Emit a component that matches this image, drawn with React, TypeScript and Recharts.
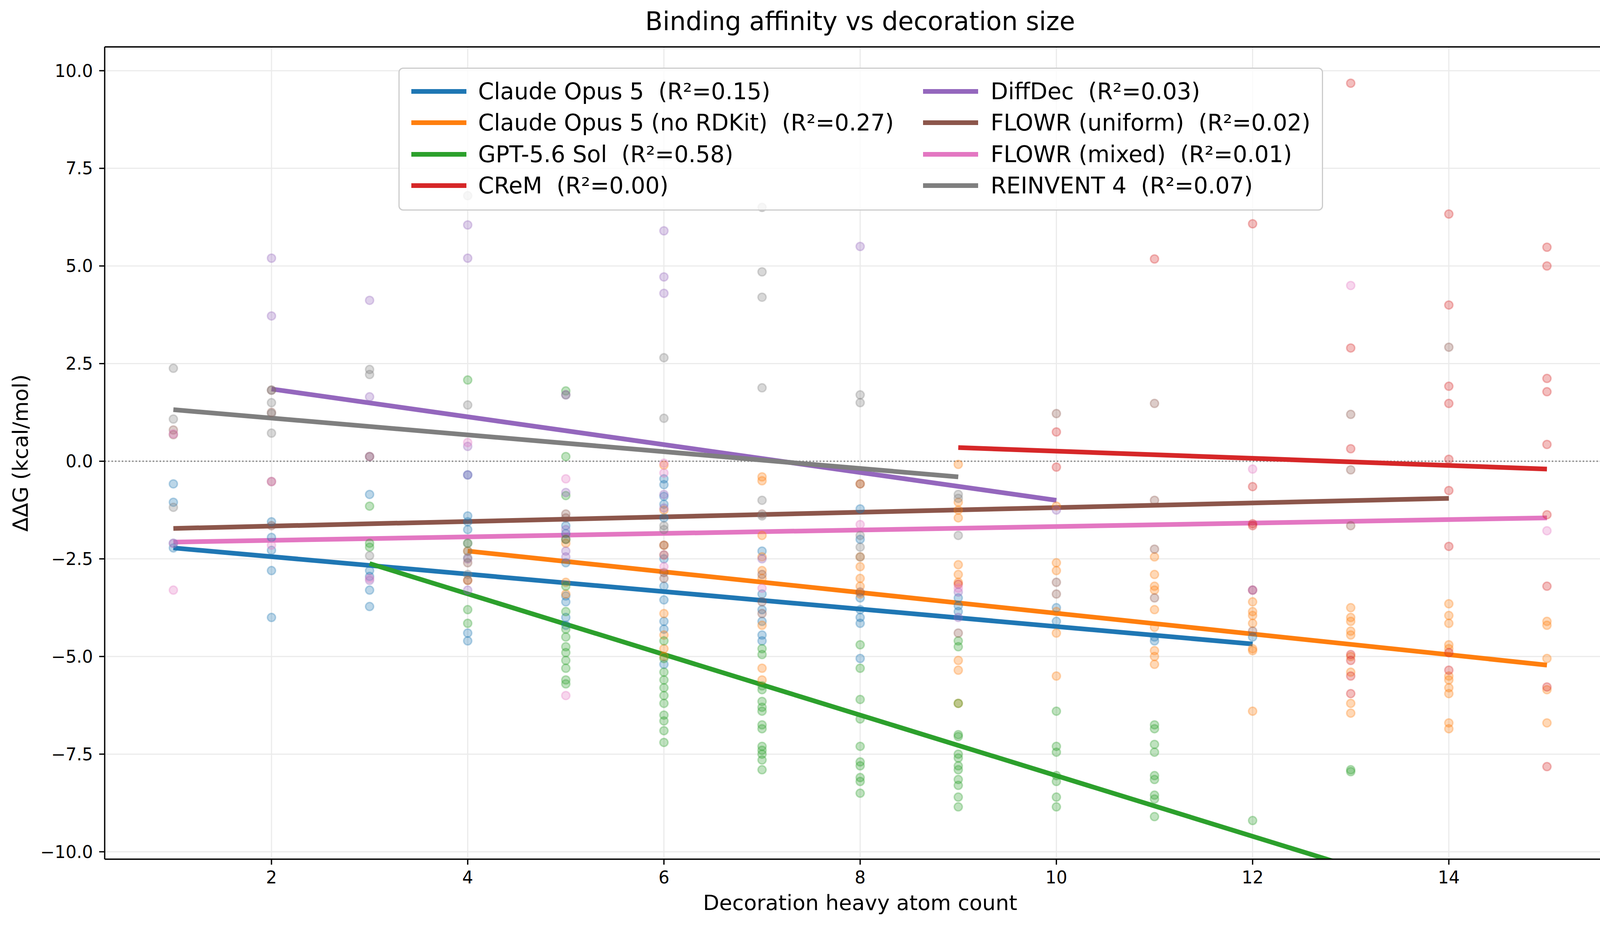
import React from "react";
import {
  ComposedChart,
  Scatter,
  Line,
  XAxis,
  YAxis,
  CartesianGrid,
  ReferenceLine,
} from "recharts";

type Pt = [number, number];

const xTicks = [2, 4, 6, 8, 10, 12, 14];
const yTicks = [-10, -7.5, -5, -2.5, 0, 2.5, 5, 7.5, 10];

// scatter points: [heavy atoms, ddG]
const opusPts: Pt[] = [
  [1, -0.58], [1, -1.05], [1, -2.1], [1, -2.22],
  [2, -1.55], [2, -1.95], [2, -2.28], [2, -2.8], [2, -4.0],
  [3, -0.85], [3, -2.8], [3, -2.95], [3, -3.3], [3, -3.72],
  [4, -0.35], [4, -1.4], [4, -1.55], [4, -1.75], [4, -2.3], [4, -4.4], [4, -4.6],
  [5, -1.65], [5, -1.85], [5, -2.6], [5, -3.45], [5, -3.6], [5, -4.0], [5, -4.2],
  [6, -0.45], [6, -0.6], [6, -0.9], [6, -1.1], [6, -1.45], [6, -2.5], [6, -3.2], [6, -3.55], [6, -4.1], [6, -4.3], [6, -5.2],
  [7, -2.3], [7, -3.4], [7, -3.8], [7, -4.1], [7, -4.45], [7, -4.6],
  [8, -1.22], [8, -2.0], [8, -3.5], [8, -3.8], [8, -4.0], [8, -4.15], [8, -5.05],
  [9, -3.5], [9, -3.7], [9, -3.85],
  [10, -3.75], [10, -4.1],
  [11, -4.5], [11, -4.6],
  [12, -4.5],
];

const noRdkitPts: Pt[] = [
  [4, -2.3], [4, -3.05],
  [5, -2.1], [5, -3.1], [5, -3.4],
  [6, -0.1], [6, -1.25], [6, -2.15], [6, -2.4], [6, -3.9], [6, -4.45], [6, -4.8], [6, -5.0],
  [7, -0.4], [7, -0.5], [7, -1.9], [7, -2.45], [7, -2.8], [7, -3.0], [7, -4.2], [7, -5.3], [7, -5.6],
  [8, -0.58], [8, -2.45], [8, -2.7], [8, -3.0], [8, -3.2], [8, -3.4],
  [9, -0.08], [9, -1.05], [9, -1.25], [9, -1.45], [9, -2.65], [9, -2.9], [9, -3.1], [9, -5.1], [9, -5.35], [9, -6.2],
  [10, -1.15], [10, -2.6], [10, -2.8], [10, -3.85], [10, -4.4], [10, -5.5],
  [11, -2.45], [11, -2.9], [11, -3.2], [11, -3.3], [11, -3.8], [11, -4.25], [11, -4.85], [11, -5.0], [11, -5.2],
  [12, -3.6], [12, -3.85], [12, -3.95], [12, -4.15], [12, -4.8], [12, -4.85], [12, -6.4],
  [13, -3.75], [13, -4.0], [13, -4.1], [13, -4.35], [13, -4.45], [13, -5.0], [13, -5.4], [13, -6.2], [13, -6.45],
  [14, -3.65], [14, -3.95], [14, -4.15], [14, -4.7], [14, -4.8], [14, -5.5], [14, -5.6], [14, -5.8], [14, -5.95], [14, -6.7], [14, -6.85],
  [15, -4.1], [15, -4.2], [15, -5.05], [15, -5.85], [15, -6.7],
];

const gptPts: Pt[] = [
  [3, -1.15], [3, -2.1], [3, -2.2],
  [4, 2.08], [4, -2.1], [4, -3.8], [4, -4.15],
  [5, 1.8], [5, 0.12], [5, -0.88], [5, -2.0], [5, -3.2], [5, -3.85], [5, -4.3], [5, -4.5], [5, -4.75], [5, -4.9], [5, -5.1], [5, -5.3], [5, -5.6], [5, -5.7],
  [6, -4.6], [6, -5.05], [6, -5.4], [6, -5.6], [6, -5.8], [6, -6.0], [6, -6.2], [6, -6.5], [6, -6.65], [6, -6.9], [6, -7.2],
  [7, -4.8], [7, -4.95], [7, -5.75], [7, -5.85], [7, -6.15], [7, -6.3], [7, -6.4], [7, -6.75], [7, -6.85], [7, -7.3], [7, -7.4], [7, -7.5], [7, -7.65], [7, -7.9],
  [8, -4.7], [8, -5.3], [8, -6.1], [8, -6.6], [8, -7.3], [8, -7.7], [8, -7.8], [8, -8.1], [8, -8.2], [8, -8.5],
  [9, -4.6], [9, -4.75], [9, -6.2], [9, -7.0], [9, -7.05], [9, -7.5], [9, -7.6], [9, -7.8], [9, -7.9], [9, -8.15], [9, -8.3], [9, -8.6], [9, -8.85],
  [10, -6.4], [10, -7.3], [10, -7.45], [10, -8.05], [10, -8.2], [10, -8.6], [10, -8.85],
  [11, -6.75], [11, -6.85], [11, -7.25], [11, -7.45], [11, -8.05], [11, -8.15], [11, -8.55], [11, -8.65], [11, -9.1],
  [12, -9.2],
  [13, -7.9], [13, -7.95],
];

const cremPts: Pt[] = [
  [9, -3.15],
  [10, 0.75], [10, -0.15],
  [11, 5.18],
  [12, 6.08], [12, -0.65], [12, -1.6], [12, -1.65], [12, -3.3],
  [13, 9.68], [13, 2.9], [13, 0.32], [13, -4.95], [13, -5.1], [13, -5.5], [13, -5.95],
  [14, 6.33], [14, 4.0], [14, 1.92], [14, 1.48], [14, 0.05], [14, -0.75], [14, -2.18], [14, -4.9], [14, -5.35],
  [15, 5.48], [15, 5.0], [15, 2.12], [15, 1.78], [15, 0.43], [15, -1.37], [15, -3.2], [15, -5.78], [15, -7.82],
];

const diffdecPts: Pt[] = [
  [2, 5.2], [2, 3.72],
  [3, 4.12], [3, 1.65], [3, 0.12], [3, -3.05],
  [4, 6.05], [4, 5.2], [4, 0.38], [4, -0.35], [4, -2.5], [4, -3.3],
  [5, 1.7], [5, -0.8], [5, -1.75], [5, -2.3], [5, -2.45],
  [6, 5.9], [6, 4.72], [6, 4.3], [6, -0.85], [6, -1.2], [6, -2.4],
  [7, -2.5],
  [8, 5.5],
  [9, -3.35], [9, -4.0],
  [10, -1.25],
  [12, -3.3],
];

const flowrUniformPts: Pt[] = [
  [1, 0.8], [1, 0.68],
  [2, 1.82], [2, 1.25], [2, -0.52], [2, -1.65],
  [3, 0.12],
  [4, -3.05], [4, -2.6],
  [5, -1.35], [5, -1.45], [5, -2.0],
  [6, -2.15], [6, -2.85], [6, -3.0],
  [7, -1.35], [7, -2.9], [7, -3.6], [7, -3.9],
  [8, -0.58], [8, -3.35],
  [9, -4.4],
  [10, 1.22], [10, -3.1], [10, -3.4],
  [11, 1.48], [11, -1.0], [11, -2.25], [11, -3.5],
  [12, -4.35],
  [13, 1.2], [13, -0.22], [13, -1.65],
  [14, 2.92],
];

const flowrMixedPts: Pt[] = [
  [1, 0.7], [1, -2.1], [1, -3.3],
  [2, -0.52], [2, -2.15],
  [3, -3.0],
  [4, 0.48],
  [5, -0.45], [5, -6.0],
  [6, -0.05], [6, -0.3], [6, -2.7],
  [7, -3.25],
  [8, -1.62],
  [9, -3.25],
  [12, -0.2],
  [13, 4.5],
  [15, -1.78],
];

const reinventPts: Pt[] = [
  [1, 2.38], [1, 1.08], [1, -1.18],
  [2, 1.82], [2, 1.5], [2, 1.22], [2, 0.72],
  [3, 2.35], [3, 2.22], [3, -2.42],
  [4, 6.8], [4, 1.44], [4, -2.1], [4, -2.47], [4, -2.9],
  [5, 1.7],
  [6, 2.65], [6, 1.1], [6, -1.65], [6, -1.75],
  [7, 6.5], [7, 4.85], [7, 4.2], [7, 1.88], [7, -1.0], [7, -1.4],
  [8, 1.7], [8, 1.5], [8, -1.9], [8, -2.2], [8, -2.45],
  [9, -0.85], [9, -0.95], [9, -1.9],
];

// least-squares fit lines, start and end
const opusFit: Pt[] = [[1, -2.22], [12, -4.68]];
const noRdkitFit: Pt[] = [[4, -2.3], [15, -5.22]];
const gptFit: Pt[] = [[3, -2.62], [13, -10.38]];
const cremFit: Pt[] = [[9, 0.35], [15, -0.2]];
const diffdecFit: Pt[] = [[2, 1.85], [10, -1.0]];
const flowrUniformFit: Pt[] = [[1, -1.72], [14, -0.95]];
const flowrMixedFit: Pt[] = [[1, -2.07], [15, -1.45]];
const reinventFit: Pt[] = [[1, 1.32], [9, -0.4]];

const names = [
  "Claude Opus 5",
  "Claude Opus 5 (no RDKit)",
  "GPT-5.6 Sol",
  "CReM",
  "DiffDec",
  "FLOWR (uniform)",
  "FLOWR (mixed)",
  "REINVENT 4",
];
const r2 = [0.15, 0.27, 0.58, 0.0, 0.03, 0.02, 0.01, 0.07];
const colors = [
  "#1f77b4", "#ff7f0e", "#2ca02c", "#d62728",
  "#9467bd", "#8c564b", "#e377c2", "#7f7f7f",
];
const allPts = [opusPts, noRdkitPts, gptPts, cremPts, diffdecPts, flowrUniformPts, flowrMixedPts, reinventPts];
const allFits = [opusFit, noRdkitFit, gptFit, cremFit, diffdecFit, flowrUniformFit, flowrMixedFit, reinventFit];

const toRows = (pts: Pt[]) => pts.map(([x, y]) => ({ x, y }));

const FONT = "DejaVu Sans";
const fmt = (v: number) => (v < 0 ? "\u2212" : "") + Math.abs(v).toFixed(1);

const dotShape = (color: string) => (props: any) => (
  <circle
    cx={props.cx}
    cy={props.cy}
    r={10.5}
    fill={color}
    fillOpacity={0.3}
    stroke={color}
    strokeOpacity={0.3}
    strokeWidth={3.5}
  />
);

function LegendBox() {
  const rowTop = [231, 311, 392, 472];
  const entry = (i: number, left: number, textLeft: number) => (
    <div
      key={i}
      style={{
        position: "absolute",
        left: left - 1020,
        top: rowTop[i % 4] - 173 - 40,
        height: 80,
        display: "flex",
        alignItems: "center",
      }}
    >
      <div style={{ width: 141, height: 12.5, background: colors[i] }} />
      <div
        style={{
          marginLeft: textLeft - left - 141,
          fontSize: 58,
          lineHeight: "58px",
          whiteSpace: "pre",
          color: "#000",
        }}
      >
        {`${names[i]}  (R\u00b2=${r2[i].toFixed(2)})`}
      </div>
    </div>
  );
  return (
    <div
      style={{
        position: "absolute",
        left: 1020,
        top: 173,
        width: 2367,
        height: 366,
        boxSizing: "border-box",
        border: "3px solid #cccccc",
        borderRadius: 12,
        background: "rgba(255,255,255,0.8)",
        fontFamily: FONT,
      }}
    >
      {[0, 1, 2, 3].map((i) => entry(i, 1050, 1221))}
      {[4, 5, 6, 7].map((i) => entry(i, 2360, 2533))}
    </div>
  );
}

export default function App() {
  return (
    <div
      style={{
        position: "absolute",
        left: 0,
        top: 0,
        width: 4170,
        height: 2370,
        background: "#fff",
        fontFamily: FONT,
      }}
    >
      <ComposedChart
        width={4170}
        height={2370}
        margin={{ top: 120, right: 34, bottom: 0, left: 0 }}
        style={{ fontFamily: FONT }}
      >
        <CartesianGrid stroke="#ebebeb" strokeWidth={3} />
        <XAxis
          type="number"
          dataKey="x"
          domain={[0.3, 15.7]}
          ticks={xTicks}
          allowDataOverflow
          height={171}
          axisLine={{ stroke: "#000", strokeWidth: 3.3 }}
          tickLine={{ stroke: "#000", strokeWidth: 3.3 }}
          tickSize={14}
          tickMargin={17}
          tick={{ fill: "#000", fontSize: 44, fontFamily: FONT }}
          label={{
            value: "Decoration heavy atom count",
            position: "insideBottom",
            offset: 41,
            fill: "#000",
            fontSize: 54,
            fontFamily: FONT,
          }}
        />
        <YAxis
          type="number"
          dataKey="y"
          domain={[-10.19, 10.61]}
          ticks={yTicks}
          allowDataOverflow
          width={268}
          axisLine={{ stroke: "#000", strokeWidth: 3.3 }}
          tickLine={{ stroke: "#000", strokeWidth: 3.3 }}
          tickSize={14}
          tickMargin={16}
          tickFormatter={fmt}
          tick={{ fill: "#000", fontSize: 44, fontFamily: FONT }}
          label={{
            value: "\u0394\u0394G (kcal/mol)",
            angle: -90,
            position: "insideLeft",
            offset: 52,
            fill: "#000",
            fontSize: 54,
            fontFamily: FONT,
            textAnchor: "middle",
            style: { textAnchor: "middle" },
          }}
        />
        <ReferenceLine
          y={0}
          stroke="#808080"
          strokeWidth={3.3}
          strokeDasharray="3.3 5.5"
          ifOverflow="visible"
        />
        <ReferenceLine y={10.61} stroke="#000" strokeWidth={3.3} ifOverflow="visible" />
        <ReferenceLine x={15.7} stroke="#000" strokeWidth={3.3} ifOverflow="visible" />
        {allPts.map((pts, i) => [
          <Scatter
            key={`s${i}`}
            name={names[i]}
            data={toRows(pts)}
            shape={dotShape(colors[i])}
            isAnimationActive={false}
          />,
          <Line
            key={`l${i}`}
            data={toRows(allFits[i])}
            dataKey="y"
            type="linear"
            stroke={colors[i]}
            strokeWidth={12}
            dot={false}
            activeDot={false}
            isAnimationActive={false}
          />,
        ])}
      </ComposedChart>
      <div
        style={{
          position: "absolute",
          left: 268,
          width: 3868,
          top: 22,
          textAlign: "center",
          fontSize: 65,
          lineHeight: "65px",
          color: "#000",
        }}
      >
        Binding affinity vs decoration size
      </div>
      <LegendBox />
    </div>
  );
}
